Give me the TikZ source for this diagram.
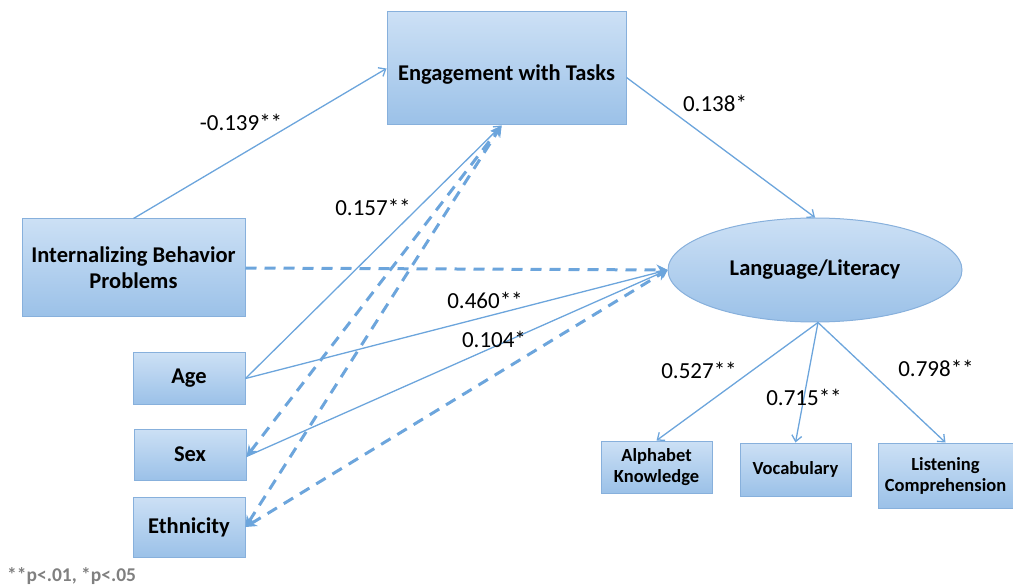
\documentclass[tikz,border=0pt]{standalone}
\usepackage{fontspec}
\setmainfont{Carlito}
\usetikzlibrary{arrows.meta,shapes.geometric}
\definecolor{boxtop}{RGB}{204,224,245}
\definecolor{boxbot}{RGB}{155,193,232}
\definecolor{boxline}{RGB}{135,176,220}
\definecolor{linkc}{RGB}{108,165,220}
\definecolor{notec}{RGB}{128,128,128}
\tikzset{
  varbox/.style={draw=boxline, line width=1pt, top color=boxtop, bottom color=boxbot,
    font=\bfseries\fontsize{22.5}{26}\selectfont, align=center, inner sep=0pt},
  smallbox/.style={varbox, font=\bfseries\fontsize{18.5}{21}\selectfont},
  latent/.style={ellipse, draw=boxline, line width=1pt, top color=boxtop, bottom color=boxbot,
    font=\bfseries\fontsize{22.5}{26}\selectfont, inner sep=0pt,
    minimum width=294pt, minimum height=104pt},
  solidlink/.style={draw=linkc, line width=1.3pt, -{Straight Barb[length=6pt,width=10pt,line width=1.3pt]}},
  dashlink/.style={draw=linkc, line width=3pt, dash pattern=on 11pt off 8pt,
    {Stealth[length=11pt,width=11pt]}-{Stealth[length=11pt,width=11pt]}},
  dashone/.style={draw=linkc, line width=3pt, dash pattern=on 11pt off 8pt,
    -{Stealth[length=11pt,width=11pt]}},
  coef/.style={font=\fontsize{23}{26}\selectfont, inner sep=0pt},
}
\begin{document}
\begin{tikzpicture}[x=1pt,y=-1pt]
\useasboundingbox (0,0) rectangle (1013,588);
% nodes
\node[varbox, minimum width=239pt, minimum height=113pt, text height=29pt, text depth=5pt] (eng) at (506.5,68.5) {Engagement with Tasks};
\node[varbox, minimum width=223pt, minimum height=98pt, yshift=0pt] (ibp) at (133.5,268) {Internalizing Behavior\\Problems};
\node[varbox, minimum width=112pt, minimum height=51pt] (age) at (189,378.5) {Age};
\node[varbox, minimum width=112pt, minimum height=51pt] (sex) at (190,454.5) {Sex};
\node[varbox, minimum width=112pt, minimum height=60pt] (eth) at (189,527) {Ethnicity};
\node[latent] (lang) at (815,270) {Language/Literacy};
\node[smallbox, minimum width=111pt, minimum height=52pt] (alpha) at (656.5,467) {Alphabet\\Knowledge};
\node[smallbox, minimum width=111pt, minimum height=53pt] (voc) at (795.5,469.5) {Vocabulary};
\node[smallbox, minimum width=135pt, minimum height=65pt] (lis) at (945.5,475.5) {Listening\\Comprehension};
% anchor points
\coordinate (engb) at ([xshift=-5pt]eng.south);
\coordinate (engr) at ([yshift=-9pt]eng.east);
\coordinate (langb) at ([xshift=3pt]lang.south);
% connectors
\draw[solidlink] (ibp.north) -- (eng.west);
\draw[solidlink] (engr) -- (lang.north);
\draw[dashone] (ibp.east) -- (lang.west);
\draw[solidlink] (age.east) -- (engb);
\draw[solidlink] (age.east) -- (lang.west);
\draw[solidlink] ([yshift=-2pt]sex.east) -- (lang.west);
\draw[dashlink] ([yshift=-2pt]sex.east) -- (engb);
\draw[dashlink] (eth.east) -- (engb);
\draw[dashlink] (eth.east) -- (lang.west);
\draw[solidlink] (langb) -- (alpha.north);
\draw[solidlink] (langb) -- (voc.north);
\draw[solidlink] (langb) -- (lis.north);
% coefficients
\node[coef] (c1) at (241,122) {-0.139**};
\node[coef] (c2) at (715,103) {0.138*};
\node[coef] (c3) at (373,207) {0.157**};
\node[coef] (c4) at (485,300) {0.460**};
\node[coef] (c5) at (494,339) {0.104*};
\node[coef] (c6) at (699,370) {0.527**};
\node[coef] (c7) at (804,397) {0.715**};
\node[coef] (c8) at (936,368) {0.798**};
\node[font=\bfseries\fontsize{19.5}{22}\selectfont, text=notec, anchor=west, inner sep=0pt] (note) at (7,576) {**p<.01, *p<.05};
\end{tikzpicture}
\end{document}
